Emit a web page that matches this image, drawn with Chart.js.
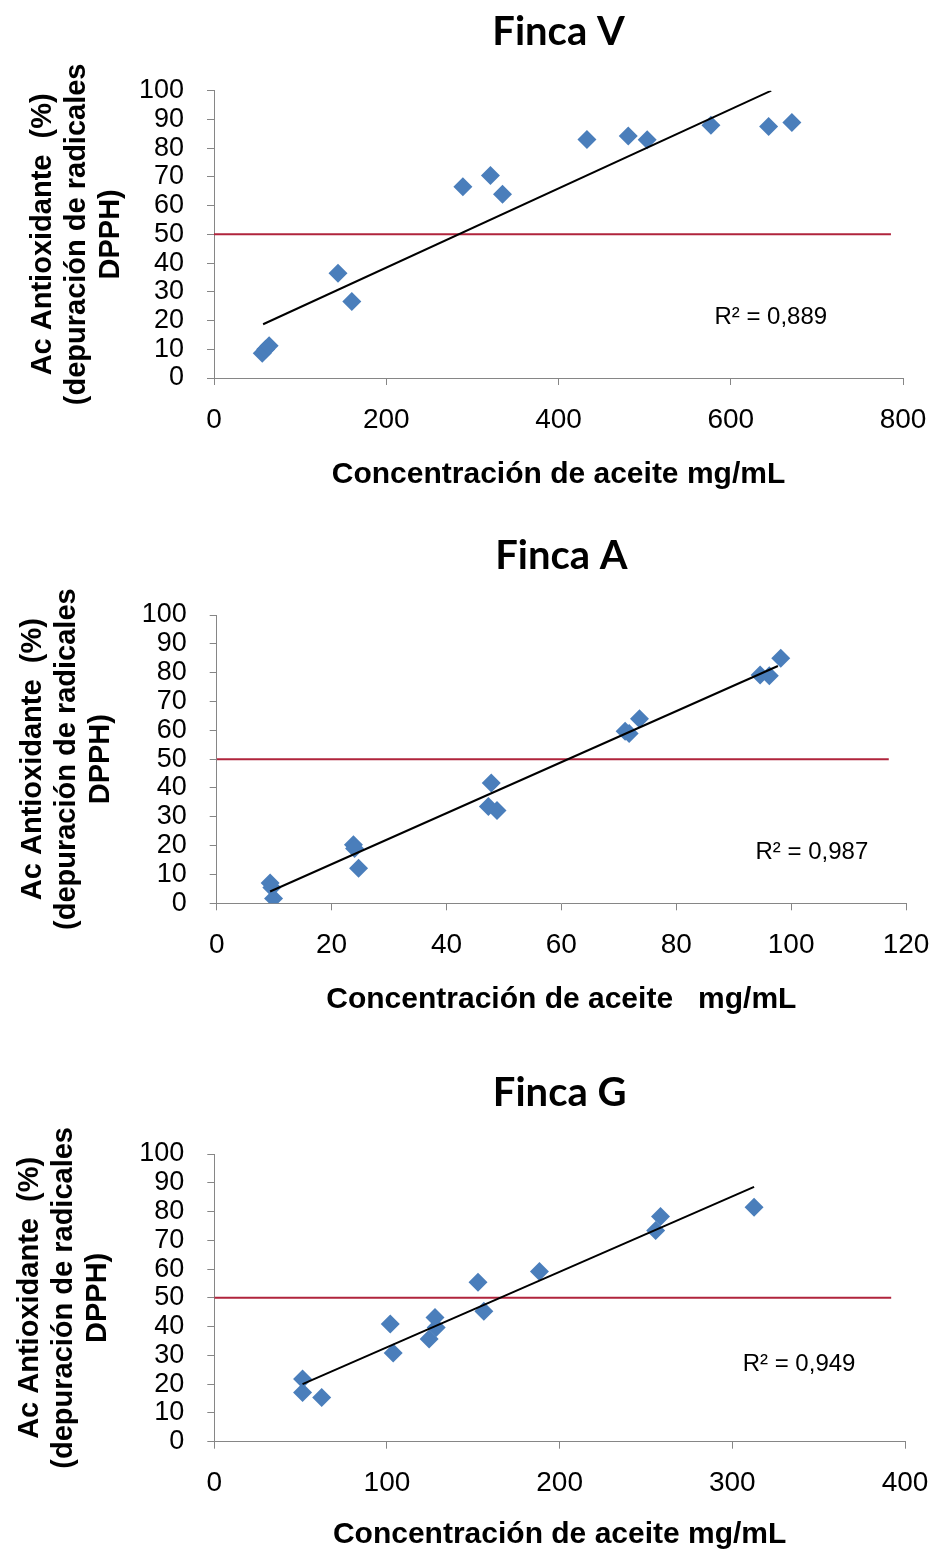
<!DOCTYPE html>
<html>
<head>
<meta charset="utf-8">
<script src="https://cdn.jsdelivr.net/npm/chart.js@4.4.1/dist/chart.umd.min.js"></script>
<style>
  html, body { margin: 0; padding: 0; background: #fff; }
  body { width: 933px; height: 1553px; position: relative; overflow: hidden; }
  canvas { position: absolute; left: 0; }
</style>
</head>
<body>
<canvas id="chartV" width="933" height="510" style="top:0px"></canvas>
<canvas id="chartA" width="933" height="510" style="top:520px"></canvas>
<canvas id="chartG" width="933" height="513" style="top:1040px"></canvas>
<script>
// Finca V
const vConc = [56, 60, 64, 144, 160, 289, 321, 335, 433, 481, 503, 577, 644, 671];
const vAct = [8.6, 10, 11.2, 36.5, 26.6, 66.6, 70.5, 64, 83, 84.2, 82.9, 88, 87.5, 88.9];
const vTrendX = [57, 647];
const vTrendY = [18.7, 100];
const vRefX = [0, 786];

// Finca A
const aConc = [9.3, 9.6, 9.9, 23.8, 24, 24.7, 47.8, 47.3, 48.8, 71.1, 71.8, 73.6, 94.6, 96.2, 98.2];
const aAct = [7, 5.5, 1.7, 20.3, 19, 12.2, 41.7, 33.6, 32.2, 59.7, 58.9, 64, 79.2, 78.9, 85];
const aTrendX = [9.3, 97.7];
const aTrendY = [4.1, 82.3];
const aRefX = [0, 117];

// Finca G
const gConc = [51.1, 51.1, 62.2, 101.9, 103.6, 124.4, 127.8, 128.5, 152.7, 156.1, 188.3, 255.6, 258.4, 312.6];
const gAct = [21.8, 17.1, 15.4, 40.9, 30.8, 35.7, 43.2, 39.7, 55.4, 45.3, 59.2, 73.4, 78.3, 81.5];
const gTrendX = [51.1, 312.6];
const gTrendY = [20, 88.6];
const gRefX = [0, 392];

const refLevel = 50;
const yTicks = { min: 0, max: 100, step: 10 };
const yTitle = ['Ac Antioxidante  (%)', '(depuración de radicales', 'DPPH)'];

const pairs = (xs, ys) => xs.map((x, i) => ({ x: x, y: ys[i] }));

const r2Label = {
  id: 'r2Label',
  afterDatasetsDraw(chart, args, opts) {
    const { ctx, scales: { x, y } } = chart;
    ctx.save();
    ctx.font = '24px "Liberation Sans", Arial, sans-serif';
    ctx.fillStyle = '#000';
    ctx.textAlign = 'left';
    ctx.textBaseline = 'middle';
    ctx.fillText(opts.text, x.getPixelForValue(opts.x), y.getPixelForValue(opts.y));
    ctx.restore();
  }
};

function makeChart(id, o) {
  const axisGrey = '#868686';
  new Chart(document.getElementById(id), {
    type: 'scatter',
    data: {
      datasets: [
        {
          type: 'line', label: 'Lineal', data: pairs(o.trendX, o.trendY),
          borderColor: '#000', borderWidth: 2, pointRadius: 0, fill: false, tension: 0, order: 0
        },
        {
          label: o.title, data: pairs(o.x, o.y),
          pointStyle: 'rectRot', pointRadius: 9.5, pointBackgroundColor: '#4A7EBB',
          pointBorderColor: '#4A7EBB', pointBorderWidth: 0, order: 1
        },
        {
          type: 'line', label: '50 %', data: pairs(o.refX, o.refX.map(() => refLevel)),
          borderColor: '#B0243C', borderWidth: 2, pointRadius: 0, fill: false, order: 2
        }
      ]
    },
    options: {
      responsive: false,
      animation: false,
      events: [],
      layout: { padding: { left: o.padLeft, right: o.padRight, top: 0, bottom: 0 } },
      plugins: {
        legend: { display: false },
        tooltip: { enabled: false },
        title: {
          display: true, text: o.title, fullSize: false, color: '#000',
          font: { family: 'Lato, "Open Sans", sans-serif', weight: 'bold', size: 40, lineHeight: 1.2 },
          padding: { top: o.titleTop, bottom: o.titleBottom }
        },
        r2Label: { text: o.r2, x: o.r2x, y: o.r2y }
      },
      scales: {
        x: {
          type: 'linear', min: 0, max: o.xMax,
          ticks: {
            stepSize: o.xStep, color: '#000', padding: 18, maxRotation: 0, autoSkip: false,
            font: { family: '"Liberation Sans", Arial, sans-serif', size: 28 }
          },
          grid: { drawOnChartArea: false, drawTicks: true, tickLength: 7, color: axisGrey },
          border: { color: axisGrey, width: 1 },
          title: {
            display: true, text: o.xTitle, color: '#000',
            font: { family: '"Liberation Sans", Arial, sans-serif', weight: 'bold', size: 30, lineHeight: 1.2 },
            padding: { top: 0, bottom: o.xTitlePad }
          },
          afterFit: s => { s.height = o.xHeight; s.paddingLeft = 0; s.paddingRight = 0; }
        },
        y: {
          type: 'linear', min: yTicks.min, max: yTicks.max,
          ticks: {
            stepSize: yTicks.step, color: '#000', padding: 23, autoSkip: false,
            font: { family: '"Liberation Sans", Arial, sans-serif', size: 27 }
          },
          grid: { drawOnChartArea: false, drawTicks: true, tickLength: 7, color: axisGrey },
          border: { color: axisGrey, width: 1 },
          title: {
            display: true, text: yTitle, color: '#000',
            font: { family: '"Liberation Sans", Arial, sans-serif', weight: 'bold', size: 29, lineHeight: 1.17 },
            padding: 0
          },
          afterFit: s => { s.width = o.yWidth; s.paddingTop = 0; s.paddingBottom = 0; }
        }
      }
    },
    plugins: [r2Label]
  });
}

makeChart('chartV', {
  title: 'Finca V', x: vConc, y: vAct, trendX: vTrendX, trendY: vTrendY, refX: vRefX,
  xMax: 800, xStep: 200, xTitle: 'Concentración de aceite mg/mL',
  r2: 'R² = 0,889', r2x: 581, r2y: 21.2,
  padLeft: 26, yWidth: 188, padRight: 30, titleTop: 8, titleBottom: 34.7, xHeight: 132, xTitlePad: 17
});

makeChart('chartA', {
  title: 'Finca A', x: aConc, y: aAct, trendX: aTrendX, trendY: aTrendY, refX: aRefX,
  xMax: 120, xStep: 20, xTitle: 'Concentración de aceite   mg/mL',
  r2: 'R² = 0,987', r2x: 93.8, r2y: 17.5,
  padLeft: 16, yWidth: 200.7, padRight: 27, titleTop: 12, titleBottom: 35, xHeight: 126.7, xTitlePad: 12
});

makeChart('chartG', {
  title: 'Finca G', x: gConc, y: gAct, trendX: gTrendX, trendY: gTrendY, refX: gRefX,
  xMax: 400, xStep: 100, xTitle: 'Concentración de aceite mg/mL',
  r2: 'R² = 0,949', r2x: 306, r2y: 27,
  padLeft: 13, yWidth: 201.3, padRight: 28, titleTop: 29, titleBottom: 37, xHeight: 111.3, xTitlePad: 0
});
</script>
</body>
</html>
